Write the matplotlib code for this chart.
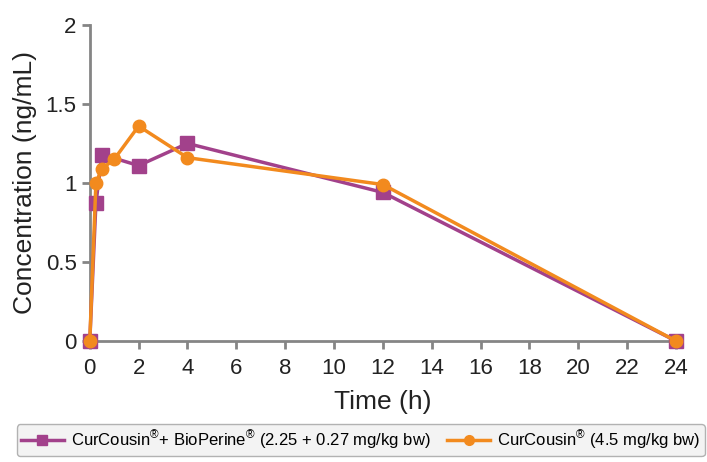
import matplotlib
matplotlib.use("Agg")
import matplotlib.pyplot as plt

# time points (h) and concentrations (ng/mL)
time_combo = [0, 0.25, 0.5, 2, 4, 12, 24]
conc_combo = [0, 0.87, 1.18, 1.11, 1.25, 0.94, 0]
time_cc = [0, 0.25, 0.5, 1, 2, 4, 12, 24]
conc_cc = [0, 1.0, 1.09, 1.15, 1.36, 1.16, 0.99, 0]

label_combo = r"CurCousin$^{\circledR}$+ BioPerine$^{\circledR}$ (2.25 + 0.27 mg/kg bw)"
label_cc = r"CurCousin$^{\circledR}$ (4.5 mg/kg bw)"

xticks = list(range(0, 25, 2))
yticks = [0, 0.5, 1, 1.5, 2]
yticklabels = ["0", "0.5", "1", "1.5", "2"]

plt.rcParams["font.family"] = ["Liberation Sans", "DejaVu Sans"]
plt.rcParams["mathtext.fontset"] = "custom"
plt.rcParams["mathtext.rm"] = "Liberation Sans"

purple = "#a2418b"
orange = "#f28a1e"
grey = "#858585"

fig = plt.figure(figsize=(7.07, 4.62), dpi=100)
ax = fig.add_axes([0.127, 0.262, 0.829, 0.684])

ax.plot(time_combo, conc_combo, color=purple, lw=2.5, marker="s", ms=10,
        clip_on=False, zorder=3, label=label_combo)
ax.plot(time_cc, conc_cc, color=orange, lw=2.5, marker="o", ms=9,
        clip_on=False, zorder=4, label=label_cc)

ax.set_xlim(0, 24)
ax.set_ylim(0, 2)
ax.set_xticks(xticks)
ax.set_yticks(yticks)
ax.set_yticklabels(yticklabels)
for s in ["top", "right"]:
    ax.spines[s].set_visible(False)
for s in ["left", "bottom"]:
    ax.spines[s].set_color(grey)
    ax.spines[s].set_linewidth(2)
ax.tick_params(axis="both", colors=grey, width=2, length=6, labelsize=16,
               labelcolor="#222222")
ax.tick_params(axis="x", pad=6)

ax.set_xlabel("Time (h)", fontsize=19, color="#222222", labelpad=8)
ax.set_ylabel("Concentration (ng/mL)", fontsize=19, color="#222222", labelpad=6)

leg = fig.legend(loc="lower center", bbox_to_anchor=(0.51, -0.005), ncol=2,
                 fontsize=12, frameon=True, fancybox=True, handlelength=2.6,
                 columnspacing=1.0, borderpad=0.25, handletextpad=0.4)
leg.get_frame().set_facecolor("#f0f0f0")
leg.get_frame().set_edgecolor("#a0a0a0")
for h in leg.legend_handles:
    h.set_markersize(7)

fig.savefig("out.png", dpi=100)
